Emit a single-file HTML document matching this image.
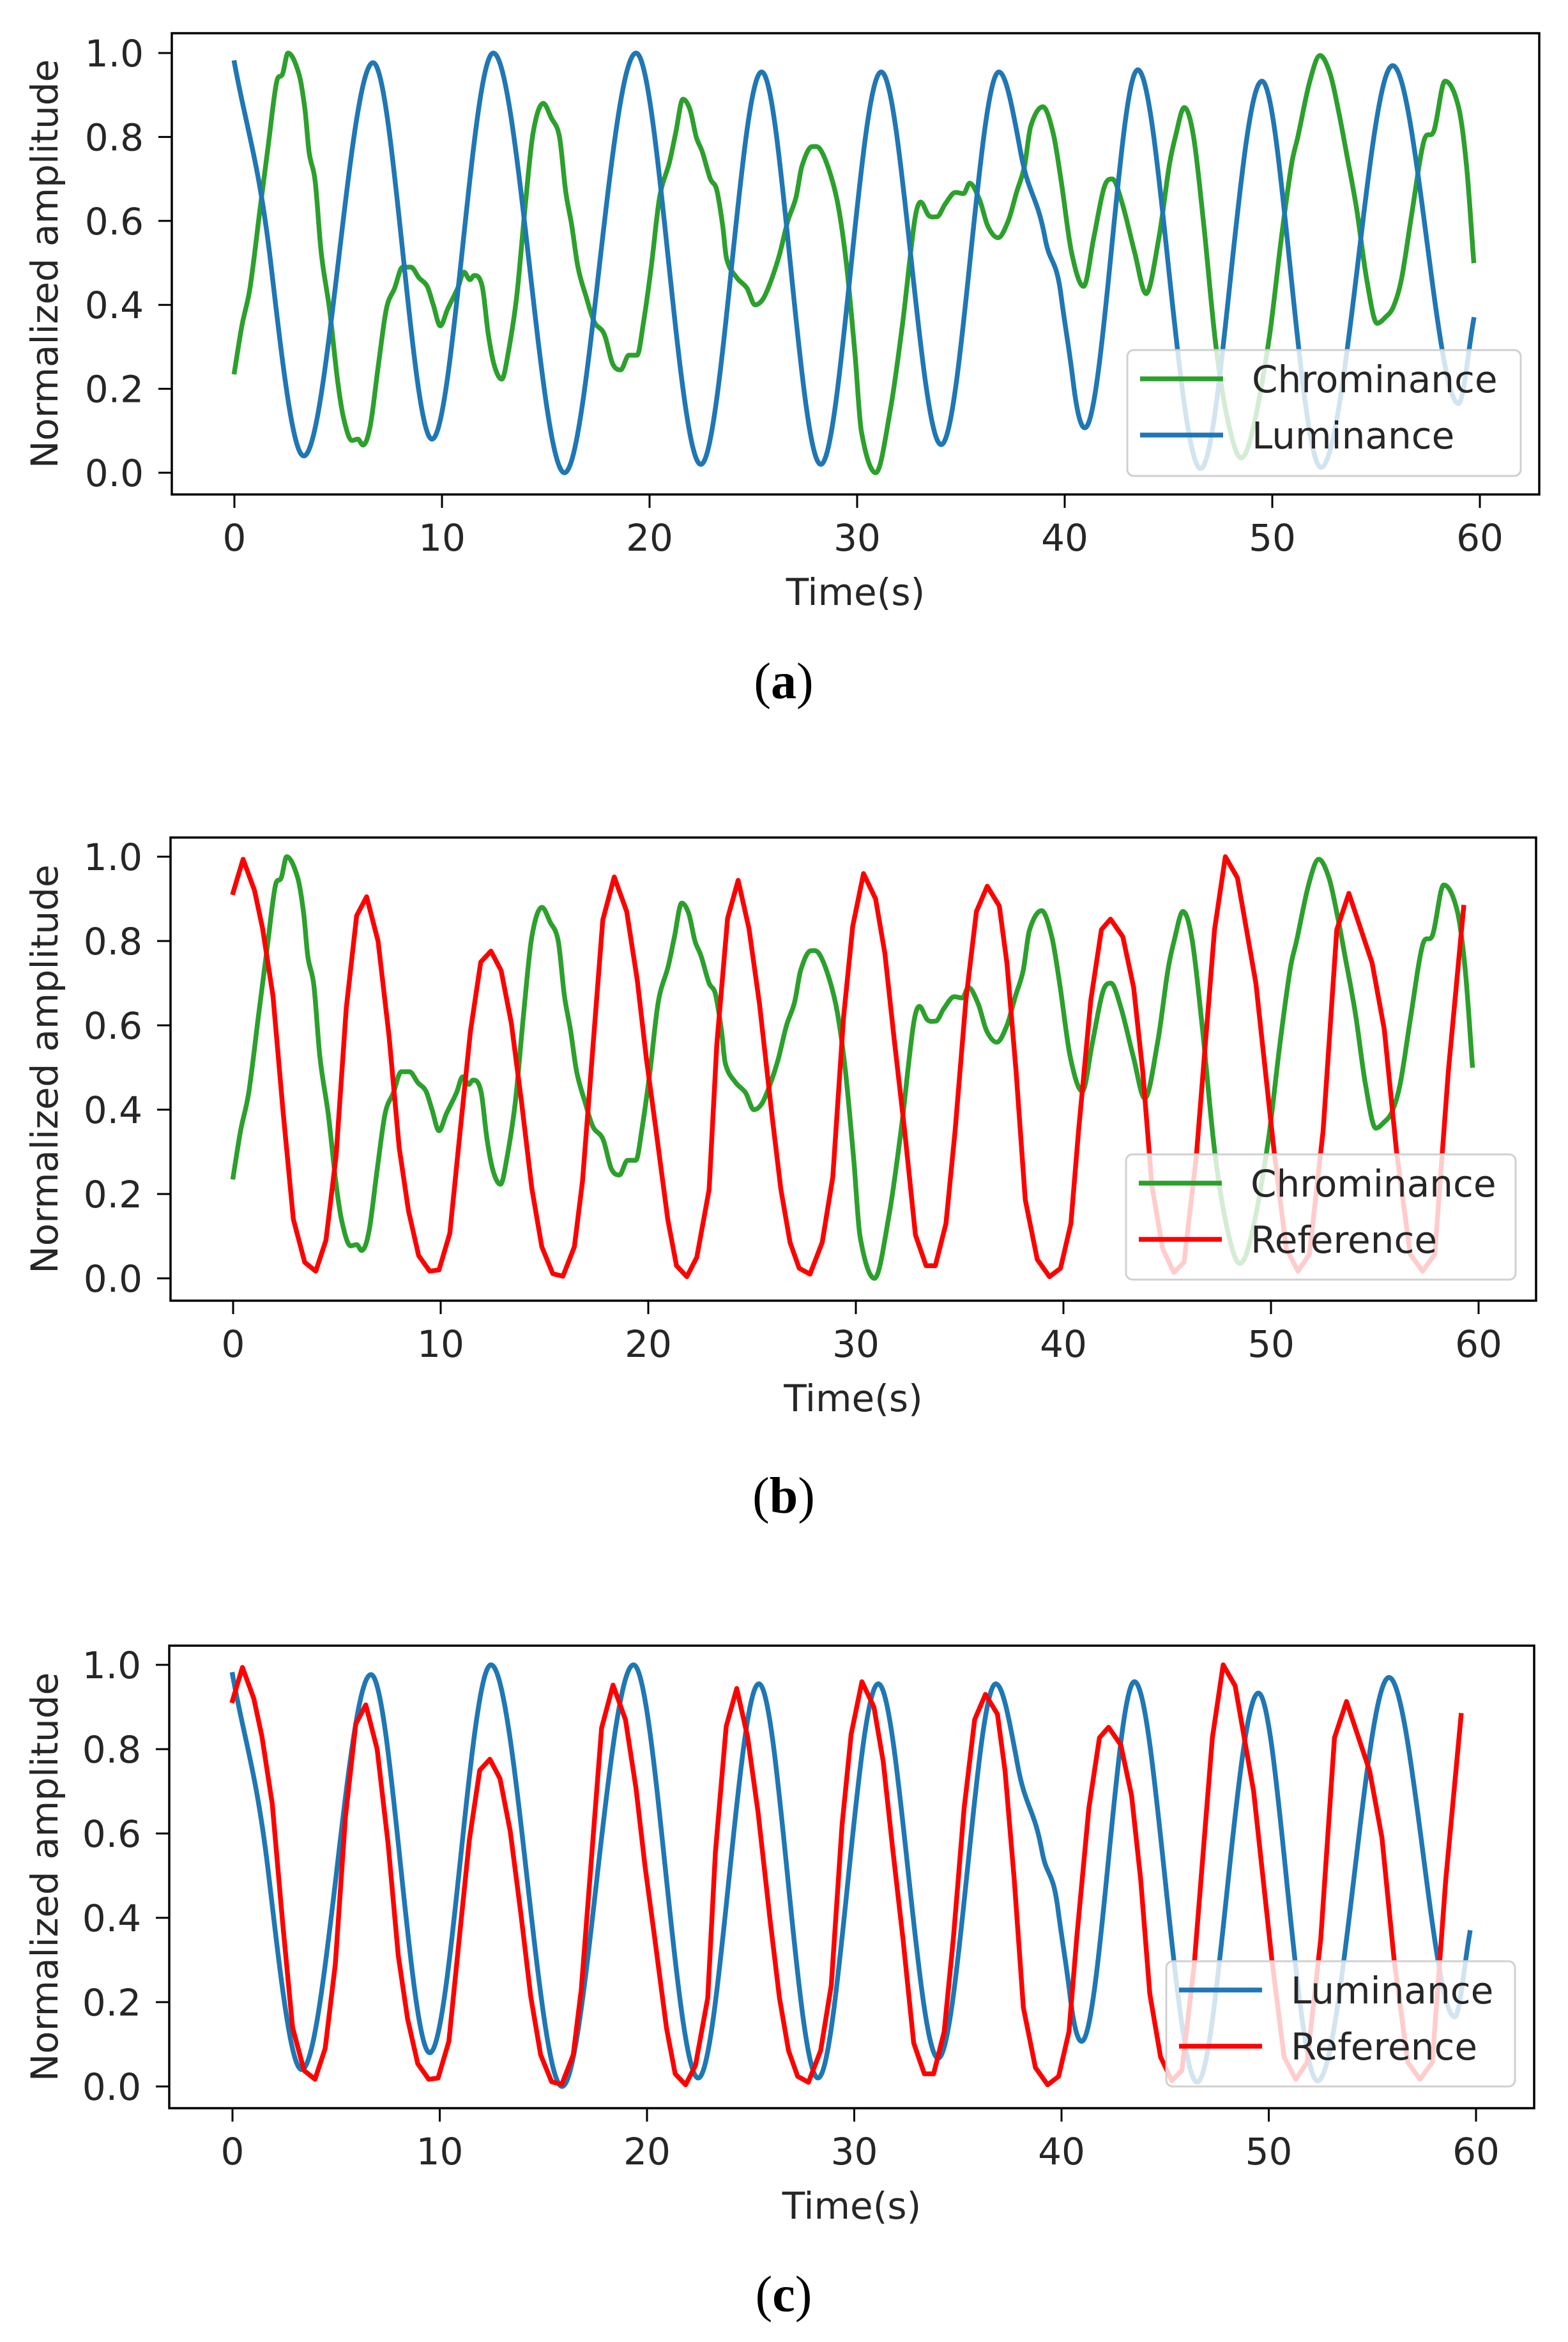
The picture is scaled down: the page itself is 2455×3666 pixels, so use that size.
<!DOCTYPE html>
<html><head><meta charset="utf-8"><style>
html,body{margin:0;padding:0;background:#fff;}
svg{display:block;}
text{font-family:"DejaVu Sans","Liberation Sans",sans-serif;fill:#262626;}
.cap{font-family:"Liberation Serif",serif;fill:#000;}
</style></head><body>
<svg id="fig" xmlns="http://www.w3.org/2000/svg" width="2455" height="3666" viewBox="0 0 2455 3666"></svg>
<script>
// ---- data ----
const timeTicks=[0,10,20,30,40,50,60];
const ampTicks=[0,0.2,0.4,0.6,0.8,1.0];
const ampTickLabels=["0.0","0.2","0.4","0.6","0.8","1.0"];
const chromT=[0,0.36,0.75,1.24,1.63,2.03,2.32,2.58,3.11,3.40,
3.6,3.89,4.18,4.58,4.97,5.26,5.66,5.95,6.19,6.54,
6.93,7.32,7.72,8.1,8.5,8.9,9.29,9.58,9.92,10.27,
10.76,11.06,11.35,11.55,11.94,12.23,12.53,12.88,13.2,13.6,
14.0,14.39,14.88,15.27,15.66,15.96,16.25,16.55,16.94,17.33,
17.82,18.22,18.61,19.0,19.4,19.7,20.08,20.48,20.96,21.26,
21.61,21.95,22.25,22.54,22.93,23.23,23.52,23.71,24.2,24.69,
25.08,25.48,25.87,26.26,26.66,27.05,27.34,27.83,28.23,28.72,
29.11,29.5,29.9,30.2,30.9,31.6,32.19,32.77,33.06,33.45,
33.85,34.24,34.74,35.13,35.42,35.9,36.3,36.79,37.28,37.68,
38.06,38.36,38.95,39.44,39.83,40.33,40.91,41.4,41.9,42.29,
42.78,43.37,43.92,44.54,45.03,45.33,45.76,46.21,46.7,47.29,
47.88,48.5,49.05,49.85,50.44,50.93,51.23,51.81,52.3,52.79,
53.18,53.57,54.06,54.55,55.05,55.44,55.83,56.22,56.71,57.3,
57.79,58.32,58.97,59.36,59.7];
const chromV=[0.24,0.35,0.44,0.63,0.78,0.93,0.95,1.0,0.95,0.865,
0.763,0.695,0.525,0.39,0.22,0.13,0.077,0.08,0.066,0.11,
0.254,0.39,0.44,0.49,0.49,0.464,0.444,0.40,0.35,0.39,
0.44,0.478,0.46,0.47,0.444,0.33,0.254,0.223,0.288,0.42,
0.63,0.81,0.88,0.845,0.80,0.67,0.59,0.49,0.42,0.36,
0.33,0.26,0.245,0.28,0.28,0.356,0.49,0.655,0.74,0.81,
0.89,0.865,0.80,0.765,0.70,0.675,0.59,0.51,0.465,0.44,
0.40,0.415,0.46,0.52,0.60,0.655,0.73,0.777,0.77,0.71,
0.63,0.49,0.28,0.10,0.0,0.15,0.356,0.60,0.645,0.613,
0.61,0.64,0.668,0.665,0.69,0.65,0.587,0.56,0.60,0.668,
0.73,0.825,0.872,0.81,0.695,0.525,0.444,0.56,0.68,0.70,
0.64,0.525,0.427,0.56,0.73,0.80,0.87,0.80,0.59,0.30,
0.12,0.035,0.10,0.32,0.56,0.735,0.80,0.933,0.994,0.95,
0.865,0.763,0.63,0.46,0.356,0.37,0.395,0.46,0.614,0.79,
0.815,0.933,0.872,0.73,0.505];
const lumT=[0,1.75,3.34,5.0,6.68,8.1,9.52,11.0,12.47,14.2,
15.9,17.6,19.35,20.9,22.47,23.95,25.4,26.8,28.25,29.7,
31.16,32.6,34.05,35.45,36.83,37.88,39.05,39.83,40.4,40.97,
42.25,43.52,45.0,46.55,48.0,49.5,50.9,52.35,54.1,55.8,
57.4,58.97,59.7];
const lumV=[0.977,0.5,0.04,0.5,0.977,0.53,0.08,0.54,1.0,0.5,
0.0,0.5,1.0,0.51,0.02,0.49,0.955,0.49,0.02,0.49,
0.955,0.51,0.067,0.51,0.955,0.763,0.56,0.42,0.22,0.107,
0.53,0.96,0.49,0.01,0.47,0.933,0.47,0.013,0.49,0.97,
0.57,0.165,0.365];
const refT=[0,0.48,1.03,1.42,1.92,2.41,2.9,3.45,3.98,4.47,
4.96,5.45,5.95,6.43,6.98,7.51,8.0,8.45,8.94,9.47,
9.92,10.44,10.94,11.43,11.93,12.42,12.91,13.4,13.9,14.39,
14.87,15.4,15.89,16.44,16.83,17.32,17.81,18.36,18.96,19.47,
19.91,20.36,20.94,21.36,21.86,22.34,22.93,23.3,23.82,24.33,
24.85,25.36,25.95,26.39,26.83,27.27,27.79,28.38,28.89,29.41,
29.85,30.37,30.95,31.4,31.84,32.35,32.87,33.38,33.83,34.34,
34.78,35.3,35.81,36.33,36.91,37.28,37.72,38.16,38.74,39.33,
39.86,40.36,40.73,41.32,41.83,42.27,42.86,43.38,43.82,44.26,
44.78,45.32,45.81,46.4,47.28,47.8,48.38,49.27,50.15,50.74,
51.3,51.85,52.51,53.17,53.75,54.87,55.46,56.05,56.71,57.3,
57.89,58.54,59.28];
const refV=[0.915,0.994,0.92,0.83,0.67,0.394,0.14,0.038,0.017,0.09,
0.29,0.64,0.86,0.905,0.80,0.575,0.31,0.16,0.054,0.017,
0.02,0.107,0.35,0.585,0.75,0.776,0.73,0.606,0.415,0.213,
0.075,0.011,0.005,0.075,0.23,0.54,0.85,0.952,0.87,0.707,
0.52,0.356,0.139,0.03,0.004,0.05,0.21,0.555,0.854,0.944,
0.83,0.65,0.39,0.21,0.085,0.024,0.01,0.085,0.24,0.62,
0.835,0.96,0.90,0.77,0.57,0.35,0.103,0.03,0.03,0.13,
0.35,0.66,0.87,0.93,0.883,0.747,0.49,0.187,0.045,0.004,
0.024,0.13,0.35,0.66,0.827,0.852,0.81,0.69,0.49,0.22,
0.07,0.014,0.038,0.288,0.827,1.0,0.95,0.70,0.30,0.07,
0.017,0.057,0.35,0.827,0.913,0.748,0.59,0.30,0.057,0.017,
0.057,0.49,0.88];

const NS="http://www.w3.org/2000/svg";
const svg=document.getElementById('fig');
function mk(tag,attrs,parent){const e=document.createElementNS(NS,tag);for(const k in attrs)e.setAttribute(k,attrs[k]);(parent||svg).appendChild(e);return e;}

// Hermite spline; slopes at non-extremum points boosted for sinusoid-like shape
function smoothPath(pts,boost){
  const n=pts.length;const m=[];
  for(let i=0;i<n;i++){
    const a=pts[Math.max(0,i-1)],b=pts[Math.min(n-1,i+1)];
    let s=(b[1]-a[1])/((b[0]-a[0])||1);
    if(i>0&&i<n-1){
      const d1=pts[i][1]-a[1],d2=b[1]-pts[i][1];
      if(d1*d2<=0) s=0; else s*=boost;
    }
    m.push(s);
  }
  let d="M"+pts[0][0].toFixed(1)+","+pts[0][1].toFixed(1);
  for(let i=0;i<n-1;i++){
    const p1=pts[i],p2=pts[i+1],h=(p2[0]-p1[0])/3;
    d+=" C"+(p1[0]+h).toFixed(1)+","+(p1[1]+m[i]*h).toFixed(1)+" "+(p2[0]-h).toFixed(1)+","+(p2[1]-m[i+1]*h).toFixed(1)+" "+p2[0].toFixed(1)+","+p2[1].toFixed(1);
  }
  return d;
}
function linePath(pts){return pts.map((p,i)=>(i?"L":"M")+p[0].toFixed(1)+","+p[1].toFixed(1)).join(" ");}

const SER={
  chrom:{t:chromT,v:chromV,color:"#2ca02c",label:"Chrominance",smooth:true,boost:1.0},
  lum:{t:lumT,v:lumV,color:"#1f77b4",label:"Luminance",smooth:true,boost:1.5},
  ref:{t:refT,v:refV,color:"#ff0000",label:"Reference",smooth:false}
};

function panel(id,c,keys,leg,capText,capY){
  const g=mk('g',{});
  
  
  const sx=t=>c.x0+t*c.k;
  const sy=v=>c.y0-v*(c.y0-c.y1);
  const clip=mk('clipPath',{id:'clip-'+id},g);
  mk('rect',{x:c.left,y:c.top,width:c.right-c.left,height:c.bottom-c.top},clip);
  keys.forEach(k=>{
    const s=SER[k];const n=Math.min(s.t.length,s.v.length);
    const pts=[];for(let i=0;i<n;i++)pts.push([sx(s.t[i]),sy(s.v[i])]);
    const p=mk('path',{d:s.smooth?smoothPath(pts,s.boost):linePath(pts),fill:'none',stroke:s.color,'stroke-width':7.5,'stroke-linejoin':'round','stroke-linecap':'square','clip-path':'url(#clip-'+id+')'},g);
    
    
  });
  const fr=mk('rect',{x:c.left,y:c.top,width:c.right-c.left,height:c.bottom-c.top,fill:'none',stroke:'#000','stroke-width':3.5},g);
  
  
  timeTicks.forEach(t=>{
    const x=sx(t);
    const tk=mk('line',{x1:x,x2:x,y1:c.bottom,y2:c.bottom+21,stroke:'#000','stroke-width':3},g);
    
    
    const tl=mk('text',{x:x,y:c.bottom+88,'text-anchor':'middle','font-size':58},g);
    tl.textContent=String(t);
    
    
  });
  ampTicks.forEach((v,i)=>{
    const y=sy(v);
    const tk=mk('line',{x1:c.left-21,x2:c.left,y1:y,y2:y,stroke:'#000','stroke-width':3},g);
    
    
    const tl=mk('text',{x:c.left-44,y:y+21,'text-anchor':'end','font-size':58},g);
    tl.textContent=ampTickLabels[i];
    
    
  });
  const xl=mk('text',{x:(c.left+c.right)/2,y:c.bottom+173,'text-anchor':'middle','font-size':58},g);
  xl.textContent="Time(s)";
  
  
  const cy=(c.top+c.bottom)/2;
  const yl=mk('text',{x:0,y:0,'text-anchor':'middle','font-size':58,transform:'translate(90,'+cy+') rotate(-90)'},g);
  yl.textContent="Normalized amplitude";
  
  
  const lg=mk('g',{},g);
  
  
  const bx=mk('rect',{x:leg.x,y:leg.y,width:leg.w,height:leg.h,rx:10,fill:'#fff','fill-opacity':0.8,stroke:'#d0d0d0','stroke-width':3},lg);
  
  
  keys.forEach((k,i)=>{
    const s=SER[k];const ry=leg.y+45+i*88;
    const e=mk('g',{},lg);
    
    
    mk('line',{x1:leg.x+20,x2:leg.x+150,y1:ry,y2:ry,stroke:s.color,'stroke-width':7.5},e);
    const t=mk('text',{x:leg.x+195,y:ry+21,'font-size':58},e);
    t.textContent=s.label;
  });
  const cap=mk('text',{x:1227,y:capY,'text-anchor':'middle','font-size':80,class:'cap'},g);
  cap.innerHTML='(<tspan font-weight="bold">'+capText+'</tspan>)';
  
  
}

panel('a',{left:269,right:2410,top:52,bottom:774,x0:367,k:32.5,y1:83,y0:740},['chrom','lum'],{x:1765,y:548,w:616,h:197},'a',1093);
panel('b',{left:267,right:2405,top:1311,bottom:2036,x0:365,k:32.5,y1:1341,y0:2001},['chrom','ref'],{x:1763,y:1807,w:610,h:196},'b',2368);
panel('c',{left:265,right:2402,top:2576,bottom:3300,x0:364,k:32.45,y1:2606,y0:3266},['lum','ref'],{x:1826,y:3070,w:546,h:196},'c',3618);
</script>
</body></html>
